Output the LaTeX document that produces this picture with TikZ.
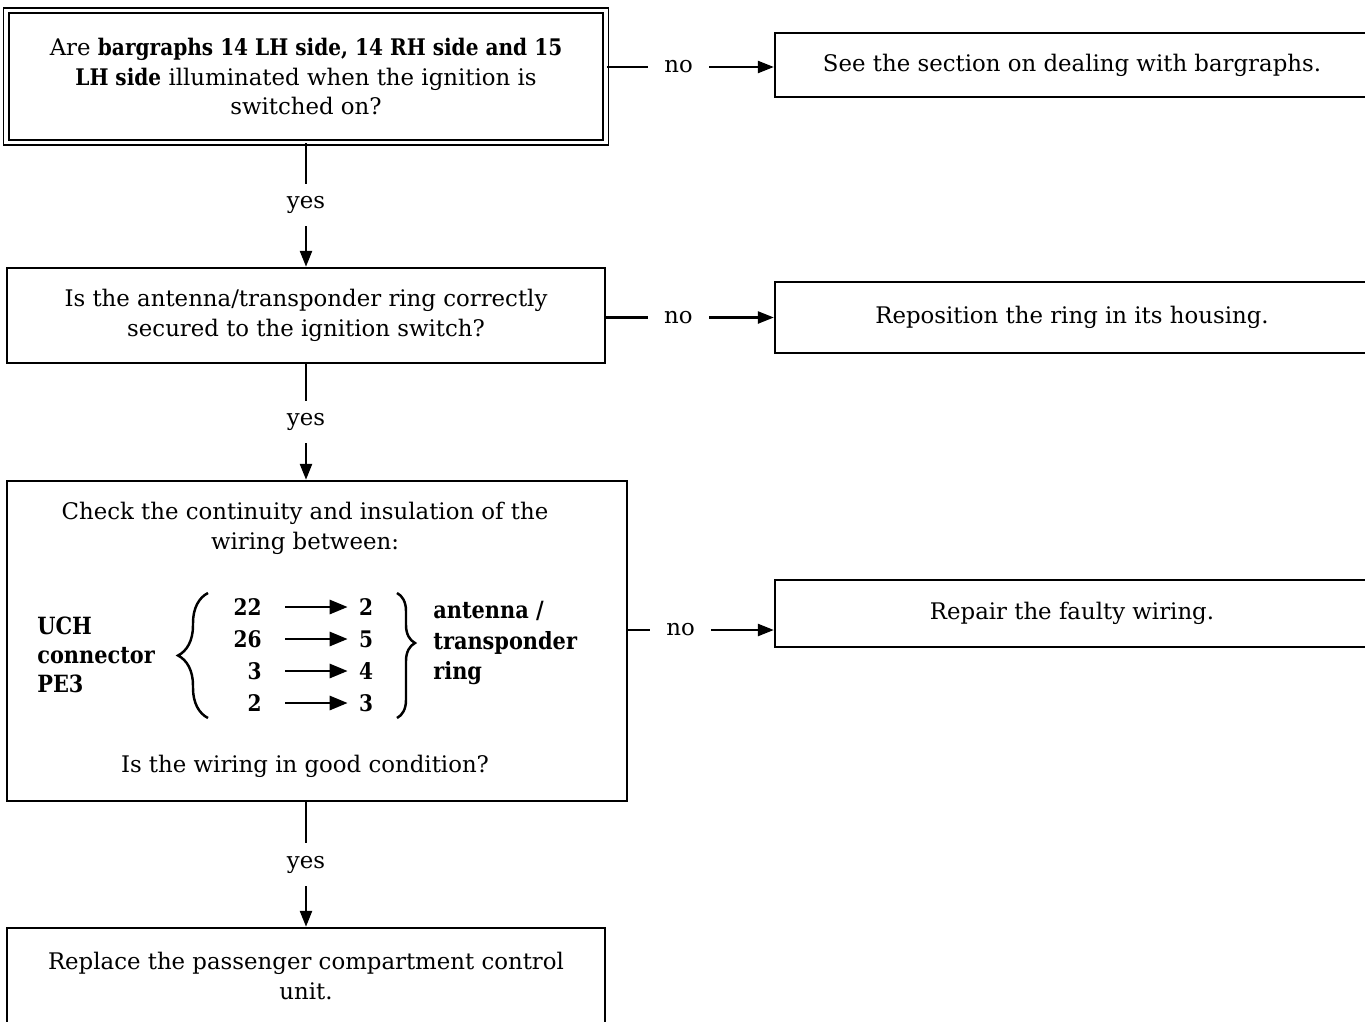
\documentclass[tikz,border=0pt]{standalone}
\usepackage{fontspec}
\setmainfont{DejaVu Serif}[BoldFeatures={FakeStretch=0.88}]
\usetikzlibrary{positioning}
\usetikzlibrary{arrows.meta}
\usetikzlibrary{decorations.pathreplacing}
\usetikzlibrary{calc}

\tikzset{
  stepbox/.style={draw, line width=1.4pt, rectangle, align=center, inner sep=0pt},
  firstbox/.style={stepbox, double, line width=1pt, double distance=0.07cm},
  flow/.style={line width=1.4pt, -{Triangle[length=0.32cm, width=0.24cm]}},
  wire/.style={line width=1.6pt, -{Triangle[length=0.36cm, width=0.28cm]}},
  answer/.style={fill=white, inner xsep=0.33cm, inner ysep=0.25cm},
  pinno/.style={font=\bfseries\fontsize{13}{17}\selectfont, inner sep=0pt},
  pinbrace/.style={decorate, line width=1.4pt, decoration={brace, amplitude=#1}},
}

\begin{document}
\begin{tikzpicture}[x=0.02cm, y=-0.02cm, font=\fontsize{13}{17}\selectfont]

  \clip (0, 0) rectangle (1365, 1021);

  % question boxes down the left
  \node at (306, 76.5) (q1) [firstbox, minimum width=12cm, minimum height=2.64cm]
    {Are \textbf{bargraphs 14 LH side, 14 RH side and 15}\\\textbf{LH side} illuminated when the ignition is\\switched on?};
  \node at (306, 315.5) (q2) [stepbox, minimum width=11.96cm, minimum height=1.9cm]
    {Is the antenna/transponder ring correctly\\secured to the ignition switch?};
  \node at (317, 641) (q3) [stepbox, minimum width=12.4cm, minimum height=6.4cm] {};
  \node at (306, 976) (q4) [stepbox, minimum width=11.96cm, minimum height=1.92cm]
    {Replace the passenger compartment control\\unit.};

  % actions on the right
  \node at (1072, 65) (r1) [stepbox, minimum width=11.88cm, minimum height=1.28cm]
    {See the section on dealing with bargraphs.};
  \node at (1072, 317.5) (r2) [stepbox, minimum width=11.88cm, minimum height=1.42cm]
    {Reposition the ring in its housing.};
  \node at (1072, 613.5) (r3) [stepbox, minimum width=11.88cm, minimum height=1.34cm]
    {Repair the faulty wiring.};

  % wiring check inside q3
  \node at (305, 528) (check) [align=center] {Check the continuity and insulation of the\\wiring between:};
  \node at (37, 655) (uch) [anchor=west, align=left, font=\bfseries\fontsize{13.5}{16.5}\selectfont, inner sep=0pt]
    {UCH\\connector\\PE3};
  \node at (433, 643) (ring) [anchor=west, align=left, font=\bfseries\fontsize{13.5}{17.5}\selectfont, inner sep=0pt]
    {antenna /\\transponder\\ring};
  \node at (305, 766) (good) {Is the wiring in good condition?};

  \foreach \ecu/\ant [count=\i] in {22/2, 26/5, 3/4, 2/3} {
    \node at (262, 575 + 32*\i) (ecu\i) [pinno, anchor=east] {\ecu};
    \node at (366, 575 + 32*\i) (ant\i) [pinno] {\ant};
    \draw [wire, shorten <=0.46cm, shorten >=0.22cm] (ecu\i.east) -- (ant\i.west);
  }

  \draw [pinbrace=0.6cm] (208, 718) -- (208, 593);
  \draw [pinbrace=0.36cm, decoration={aspect=0.4}] (397, 593) -- (397, 718);

  % yes branches
  \draw [flow] (q1.south) -- node [answer] {yes} (q1.south |- q2.north);
  \draw [flow] (q2.south) -- node [answer] {yes} (q2.south |- q3.north);
  \draw [flow] (q3.south -| q4.north) -- node [answer] {yes} (q4.north);

  % no branches
  \draw [flow] (q1.east |- 0, 67) -- node [answer, pos=0.43] {no} (r1.west |- 0, 67);
  \draw [flow] (q2.east |- r2.west) -- node [answer, pos=0.43] {no} (r2.west);
  \draw [flow] (q3.east |- 0, 630) -- node [answer, pos=0.36] {no} (r3.west |- 0, 630);

\end{tikzpicture}
\end{document}
